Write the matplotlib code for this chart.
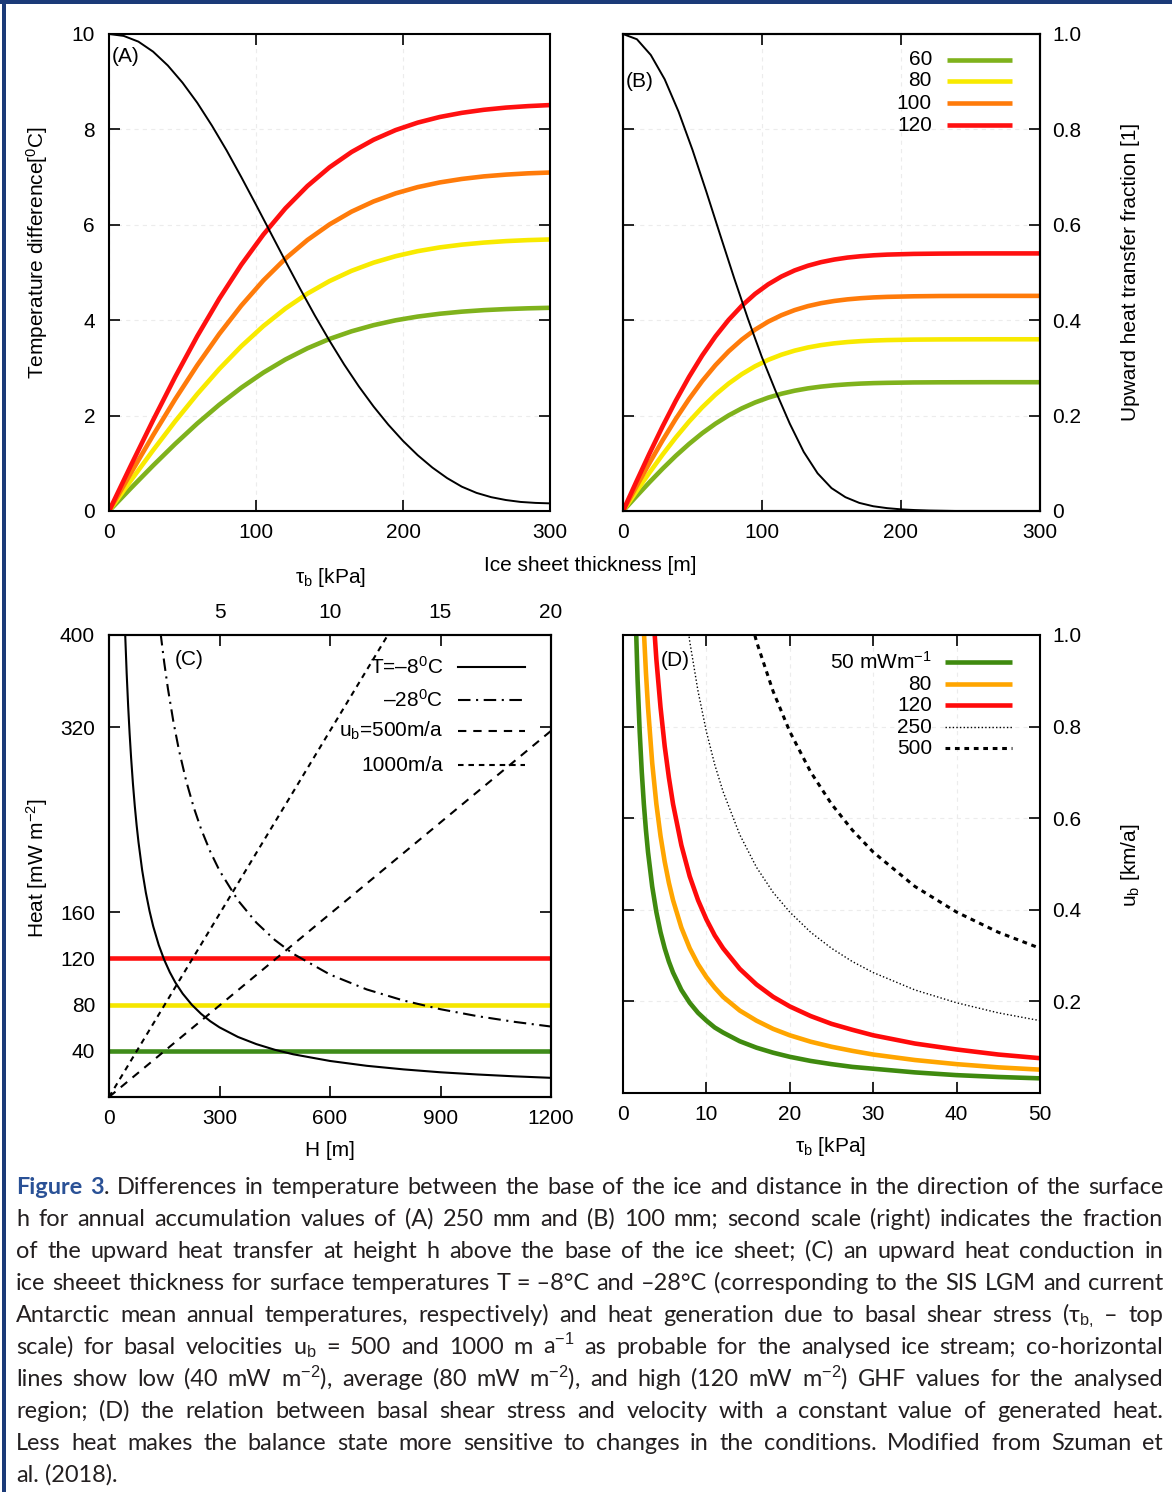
import matplotlib
matplotlib.use('Agg')
import matplotlib.pyplot as plt
from matplotlib.patches import Rectangle

plt.rcParams['font.family'] = ['Liberation Sans', 'DejaVu Sans']
plt.rcParams['mathtext.fontset'] = 'custom'
plt.rcParams['mathtext.rm'] = 'Liberation Sans'
plt.rcParams['mathtext.it'] = 'Liberation Sans:italic'
plt.rcParams['mathtext.bf'] = 'Liberation Sans:bold'
plt.rcParams['axes.unicode_minus'] = False
plt.rcParams['lines.scale_dashes'] = False

# ---------------- data ----------------
# Panel A: temperature difference vs ice thickness (250 mm accumulation)
thick_A = [0, 15, 30, 45, 60, 75, 90, 105, 120, 135, 150, 165, 180, 195, 210, 225, 240, 255, 270, 285, 300]
dT_A_60 = [0, 0.482, 0.953, 1.406, 1.834, 2.228, 2.585, 2.901, 3.176, 3.411, 3.607, 3.767, 3.896,
           3.998, 4.076, 4.135, 4.179, 4.211, 4.233, 4.249, 4.260]
dT_A_80 = [0, 0.644, 1.274, 1.880, 2.450, 2.977, 3.454, 3.877, 4.245, 4.558, 4.820, 5.035, 5.207,
           5.342, 5.447, 5.526, 5.584, 5.627, 5.658, 5.679, 5.693]
dT_A_100 = [0, 0.802, 1.588, 2.343, 3.054, 3.711, 4.306, 4.833, 5.291, 5.682, 6.008, 6.276, 6.490,
            6.659, 6.790, 6.888, 6.961, 7.015, 7.052, 7.079, 7.096]
dT_A_120 = [0, 0.962, 1.904, 2.810, 3.663, 4.450, 5.163, 5.795, 6.345, 6.813, 7.205, 7.526, 7.783,
            7.986, 8.142, 8.260, 8.347, 8.411, 8.457, 8.488, 8.510]
thick_10 = [0, 10, 20, 30, 40, 50, 60, 70, 80, 90, 100, 110, 120, 130, 140, 150,
            160, 170, 180, 190, 200, 210, 220, 230, 240, 250, 260, 270, 280, 290, 300]
black_A = [10.00, 9.96, 9.84, 9.63, 9.34, 8.98, 8.56, 8.08, 7.56, 7.00, 6.42, 5.83, 5.24, 4.66,
           4.10, 3.57, 3.07, 2.61, 2.19, 1.81, 1.47, 1.17, 0.91, 0.69, 0.51, 0.38, 0.29, 0.23,
           0.19, 0.17, 0.16]

# Panel B: 100 mm accumulation (left: temperature difference, right: fraction)
thick_B = [0, 9.5, 19, 28.5, 38, 47.5, 57, 66.5, 76, 85.5, 95, 104.5, 114, 123.5, 133, 142.5,
           152, 161.5, 171, 180.5, 190, 209, 228, 247, 266, 285, 300]
dT_B_60 = [0, 0.304, 0.601, 0.887, 1.157, 1.405, 1.631, 1.830, 2.004, 2.152, 2.275, 2.377, 2.458,
           2.522, 2.571, 2.608, 2.636, 2.656, 2.671, 2.681, 2.687, 2.695, 2.698, 2.699, 2.70, 2.70, 2.70]
dT_B_80 = [0, 0.405, 0.802, 1.183, 1.542, 1.874, 2.174, 2.440, 2.672, 2.869, 3.034, 3.169, 3.277,
           3.362, 3.428, 3.478, 3.515, 3.542, 3.561, 3.574, 3.583, 3.593, 3.597, 3.599, 3.60, 3.60, 3.60]
dT_B_100 = [0, 0.507, 1.004, 1.482, 1.932, 2.347, 2.724, 3.057, 3.347, 3.594, 3.801, 3.970, 4.105,
            4.212, 4.295, 4.357, 4.403, 4.437, 4.461, 4.478, 4.489, 4.501, 4.507, 4.509, 4.51, 4.51, 4.51]
dT_B_120 = [0, 0.608, 1.203, 1.774, 2.313, 2.811, 3.261, 3.660, 4.007, 4.303, 4.551, 4.753, 4.916,
            5.044, 5.142, 5.217, 5.272, 5.313, 5.341, 5.361, 5.375, 5.390, 5.396, 5.399, 5.40, 5.40, 5.40]
frac_B = [1.000, 0.989, 0.956, 0.905, 0.837, 0.757, 0.669, 0.578, 0.488, 0.402, 0.322, 0.250, 0.183,
          0.124, 0.079, 0.048, 0.029, 0.017, 0.010, 0.006, 0.0035, 0.002, 0.001, 0.0005, 0.0, 0.0,
          0.0, 0.0, 0.0, 0.0, 0.0]
legend_AB = ['60', '80', '100', '120']
colors_AB = ['#7fb21c', '#f8ea00', '#ff7b0a', '#ff1010']

# Panel C: heat vs ice thickness, top scale basal shear stress
H_T8 = [44, 48, 52, 56, 60, 65, 70, 75, 80, 90, 100, 110, 120, 135, 150, 165, 180, 200, 225, 250,
        275, 300, 350, 400, 450, 500, 600, 700, 800, 900, 1000, 1100, 1200]
Q_T8 = [400, 366.6, 338.5, 314.5, 293.7, 271.2, 252, 235.3, 220.8, 196.4, 177, 161.1, 147.8, 131.6,
        118.7, 108.1, 99.2, 89.5, 79.8, 72, 65.6, 60.3, 52, 45.8, 40.9, 37, 31.2, 27, 23.9, 21.4,
        19.5, 17.9, 16.6]
H_T28 = [140, 150, 160, 175, 190, 210, 230, 250, 275, 300, 350, 400, 450, 500, 600, 700, 800, 900,
         1000, 1100, 1200]
Q_T28 = [401.7, 376, 353.5, 324.6, 300.2, 273.1, 250.8, 232, 212.4, 196, 170.3, 151, 136, 124, 106,
         93.1, 83.5, 76, 70, 65.1, 61]
tau_C = [0, 20]
Q_u500 = [0, 317]
Q_u1000 = [0, 634]
ghf_levels = [40, 80, 120]
ghf_colors = ['#3f8c1a', '#f5e600', '#ff1010']
legend_C = ['T=–8$^0$C', '–28$^0$C', 'u$_\\mathrm{b}$=500m/a', '1000m/a']

# Panel D: basal velocity vs shear stress at constant heat
tau_D = [1.5, 1.75, 2, 2.25, 2.5, 2.75, 3, 3.5, 4, 4.5, 5, 5.5, 6, 7, 8, 9, 10, 11, 12, 14, 16,
         18, 20, 22.5, 25, 27.5, 30, 35, 40, 45, 50]
u_50 = [1.052, 0.902, 0.789, 0.701, 0.631, 0.574, 0.526, 0.451, 0.395, 0.351, 0.316, 0.287, 0.263,
        0.225, 0.197, 0.175, 0.158, 0.143, 0.132, 0.113, 0.099, 0.088, 0.079, 0.070, 0.063, 0.057,
        0.053, 0.045, 0.039, 0.035, 0.032]
u_80 = [1.683, 1.443, 1.263, 1.122, 1.010, 0.918, 0.842, 0.721, 0.631, 0.561, 0.505, 0.459, 0.421,
        0.361, 0.316, 0.281, 0.253, 0.230, 0.210, 0.180, 0.158, 0.140, 0.126, 0.112, 0.101, 0.092,
        0.084, 0.072, 0.063, 0.056, 0.051]
u_120 = [2.525, 2.164, 1.894, 1.683, 1.515, 1.377, 1.262, 1.082, 0.947, 0.842, 0.757, 0.689, 0.631,
         0.541, 0.473, 0.421, 0.379, 0.344, 0.316, 0.271, 0.237, 0.210, 0.189, 0.168, 0.151, 0.138,
         0.126, 0.108, 0.095, 0.084, 0.076]
u_250 = [5.26, 4.509, 3.945, 3.507, 3.156, 2.869, 2.63, 2.254, 1.973, 1.753, 1.578, 1.435, 1.315,
         1.127, 0.986, 0.877, 0.789, 0.717, 0.658, 0.564, 0.493, 0.438, 0.395, 0.351, 0.316, 0.287,
         0.263, 0.225, 0.197, 0.175, 0.158]
u_500 = [10.52, 9.017, 7.89, 7.013, 6.312, 5.738, 5.26, 4.509, 3.945, 3.507, 3.156, 2.869, 2.63,
         2.254, 1.973, 1.753, 1.578, 1.435, 1.315, 1.127, 0.986, 0.877, 0.789, 0.701, 0.631, 0.574,
         0.526, 0.451, 0.395, 0.351, 0.316]
legend_D = ['50 mWm$^{-1}$', '80', '120', '250', '500']
colors_D = ['#3f8a0f', '#ffa500', '#ff0a0a']

# ---------------- figure ----------------
W, H = 1172, 1492
fig = plt.figure(figsize=(W / 100, H / 100), dpi=100)
fig.patch.set_facecolor('white')
FS = 15
TXT = '#231f20'


def add_ax(l, t, r, b):
    return fig.add_axes([l / W, 1 - b / H, (r - l) / W, (b - t) / H])


def fx(x):
    return x / W


def fy(y):
    return 1 - y / H


def style(ax):
    for s in ax.spines.values():
        s.set_linewidth(1.5)
    ax.tick_params(which='both', direction='in', length=8, width=1.2, labelsize=FS)


def grid(ax):
    ax.set_axisbelow(True)
    ax.grid(True, color='#ececec', linewidth=0.8, linestyle=(0, (3, 3)))


def legend_rows(ax, labels, ys, xt, x0, x1, styles):
    for lab, y, st in zip(labels, ys, styles):
        ax.text(xt, y, lab, transform=ax.transAxes, ha='right', va='center', fontsize=FS)
        ax.plot([x0, x1], [y, y], transform=ax.transAxes, clip_on=False, **st)


# ---- Panel A ----
axA = add_ax(109, 34, 550, 511)
style(axA)
grid(axA)
axA.set_xlim(0, 300)
axA.set_ylim(0, 10)
axA.set_xticks([0, 100, 200, 300])
axA.set_yticks([0, 2, 4, 6, 8, 10])
axA.tick_params(top=True, right=True)
axA.tick_params(axis='x', pad=9)
axA.tick_params(axis='y', pad=10)
for vals, c in zip([dT_A_60, dT_A_80, dT_A_100, dT_A_120], colors_AB):
    axA.plot(thick_A, vals, color=c, lw=3.3, solid_capstyle='butt', solid_joinstyle='round')
axA.plot(thick_10, black_A, color='black', lw=1.4)
axA.text(0.007, 0.952, '(A)', transform=axA.transAxes, fontsize=FS, ha='left', va='center')

# ---- Panel B ----
axB = add_ax(623, 34, 1040, 511)
style(axB)
grid(axB)
axB.set_xlim(0, 300)
axB.set_ylim(0, 10)
axB.set_xticks([0, 100, 200, 300])
axB.set_yticks([0, 2, 4, 6, 8, 10])
axB.tick_params(top=True, right=False, labelleft=False)
axB.tick_params(axis='x', pad=9)
for vals, c in zip([dT_B_60, dT_B_80, dT_B_100, dT_B_120], colors_AB):
    axB.plot(thick_B, vals, color=c, lw=3.3, solid_capstyle='butt', solid_joinstyle='round')
axB2 = axB.twinx()
style(axB2)
axB2.set_ylim(0, 1)
axB2.set_yticks([0, 0.2, 0.4, 0.6, 0.8, 1.0])
axB2.set_yticklabels(['0', '0.2', '0.4', '0.6', '0.8', '1.0'])
axB2.tick_params(axis='y', pad=9)
axB2.plot(thick_10, frac_B, color='black', lw=1.4)
axB.text(0.007, 0.901, '(B)', transform=axB.transAxes, fontsize=FS, ha='left', va='center')
legend_rows(axB, legend_AB, [0.9455, 0.9015, 0.8553, 0.8092], 0.741, 0.777, 0.933,
            [dict(color=c, lw=3.3, solid_capstyle='butt') for c in colors_AB])

# ---- Panel C ----
axC = add_ax(109, 635, 551, 1097)
style(axC)
axC.set_xlim(0, 1200)
axC.set_ylim(0, 400)
axC.set_xticks([0, 300, 600, 900, 1200])
axC.set_yticks([40, 80, 120, 160, 320, 400])
axC.tick_params(top=False, right=True)
axC.tick_params(axis='x', pad=9)
axC.tick_params(axis='y', pad=10)
for lvl, c in zip(ghf_levels, ghf_colors):
    axC.axhline(lvl, color=c, lw=3.3)
axC.plot(H_T8, Q_T8, color='black', lw=1.5)
axC.plot(H_T28, Q_T28, color='black', lw=1.5, linestyle=(0, (9, 4, 1.5, 4)))
axCt = axC.twiny()
style(axCt)
axCt.set_xlim(0, 20)
axCt.set_xticks([5, 10, 15, 20])
axCt.tick_params(axis='x', pad=9)
axCt.plot(tau_C, Q_u500, color='black', lw=1.5, linestyle=(0, (6, 5)))
axCt.plot(tau_C, Q_u1000, color='black', lw=1.5, linestyle=(0, (4, 3.5)))
axC.text(0.149, 0.946, '(C)', transform=axC.transAxes, fontsize=FS, ha='left', va='center')
legend_rows(axCt, legend_C, [0.9307, 0.8593, 0.7922, 0.7186], 0.7557, 0.790, 0.941,
            [dict(color='black', lw=1.5),
             dict(color='black', lw=1.5, linestyle=(0, (9, 4, 1.5, 4))),
             dict(color='black', lw=1.5, linestyle=(0, (6, 5))),
             dict(color='black', lw=1.5, linestyle=(0, (4, 3.5)))])

# ---- Panel D ----
axD = add_ax(623, 635, 1040, 1093)
style(axD)
grid(axD)
axD.set_xlim(0, 50)
axD.set_ylim(0, 1)
axD.set_xticks([0, 10, 20, 30, 40, 50])
axD.set_yticks([0, 0.2, 0.4, 0.6, 0.8, 1.0])
axD.set_yticklabels(['', '0.2', '0.4', '0.6', '0.8', '1.0'])
axD.tick_params(top=True, right=True, labelleft=False, labelright=True)
axD.tick_params(axis='x', pad=9)
axD.tick_params(axis='y', pad=9)
for vals, c in zip([u_50, u_80, u_120], colors_D):
    axD.plot(tau_D, vals, color=c, lw=3.3, solid_joinstyle='round')
axD.plot(tau_D, u_250, color='black', lw=1.0, linestyle=(0, (1, 1.6)))
axD.plot(tau_D, u_500, color='black', lw=2.2, linestyle=(0, (3.4, 3.4)))
axD.text(0.091, 0.945, '(D)', transform=axD.transAxes, fontsize=FS, ha='left', va='center')
legend_rows(axD, legend_D, [0.941, 0.893, 0.847, 0.799, 0.753], 0.741, 0.772, 0.933,
            [dict(color=colors_D[0], lw=3.3, solid_capstyle='butt'),
             dict(color=colors_D[1], lw=3.3, solid_capstyle='butt'),
             dict(color=colors_D[2], lw=3.3, solid_capstyle='butt'),
             dict(color='black', lw=1.0, linestyle=(0, (1, 1.6))),
             dict(color='black', lw=2.2, linestyle=(0, (3.4, 3.4)))])

# ---- axis labels ----
fig.text(fx(37), fy(253), 'Temperature difference[$^0$C]', rotation=90, ha='center', va='center', fontsize=FS)
fig.text(fx(1131), fy(272), 'Upward heat transfer fraction [1]', rotation=90, ha='center', va='center', fontsize=FS)
fig.text(fx(590), fy(566), 'Ice sheet thickness [m]', ha='center', va='center', fontsize=FS)
fig.text(fx(330), fy(578), 'τ$_\\mathrm{b}$ [kPa]', ha='center', va='center', fontsize=FS)
fig.text(fx(37), fy(868), 'Heat [mW m$^{-2}$]', rotation=90, ha='center', va='center', fontsize=FS)
fig.text(fx(330), fy(1150), 'H [m]', ha='center', va='center', fontsize=FS)
fig.text(fx(830), fy(1147), 'τ$_\\mathrm{b}$ [kPa]', ha='center', va='center', fontsize=FS)
fig.text(fx(1131), fy(865), 'u$_\\mathrm{b}$ [km/a]', rotation=90, ha='center', va='center', fontsize=FS)

# ---- border ----
NAVY = '#1b3a78'
fig.add_artist(Rectangle((0, fy(4)), 1, 4 / H, transform=fig.transFigure, color=NAVY, lw=0, zorder=20))
fig.add_artist(Rectangle((fx(2), 0), 4 / W, 1, transform=fig.transFigure, color=NAVY, lw=0, zorder=20))

# ---- caption (justified) ----
BLUE = '#2a5196'
cap_lines = [
    "Figure 3. Differences in temperature between the base of the ice and distance in the direction of the surface",
    "h for annual accumulation values of (A) 250 mm and (B) 100 mm; second scale (right) indicates the fraction",
    "of the upward heat transfer at height h above the base of the ice sheet; (C) an upward heat conduction in",
    "ice sheeet thickness for surface temperatures T~=~–8°C and –28°C (corresponding to the SIS LGM and current",
    "Antarctic mean annual temperatures, respectively) and heat generation due to basal shear stress (τ$_\\mathrm{b,}$ – top",
    "scale) for basal velocities u$_\\mathrm{b}$ = 500 and 1000 m a$^{-1}$ as probable for the analysed ice stream; co-horizontal",
    "lines show low (40 mW m$^{-2}$), average (80 mW m$^{-2}$), and high (120 mW m$^{-2}$) GHF values for the analysed",
    "region; (D) the relation between basal shear stress and velocity with a constant value of generated heat.",
    "Less heat makes the balance state more sensitive to changes in the conditions. Modified from Szuman et",
    "al. (2018).",
]
CAP_L, CAP_R = 16, 1163
BASE0, STEP = 1194, 32
CAP_FAM = ['Lato', 'Liberation Sans', 'DejaVu Sans']

renderer = fig.canvas.get_renderer()


def tokens_of(i, line):
    toks = []
    for w in line.split(' '):
        w = w.replace('~', ' ')
        toks.append([(w, 'normal', TXT)])
    if i == 0:
        toks[0] = [('Figure', 'bold', BLUE)]
        toks[1] = [('3', 'bold', BLUE), ('.', 'normal', TXT)]
    return toks


def measure(s, weight, fs):
    t = fig.text(0, 0, s, fontsize=fs, fontweight=weight, family=CAP_FAM)
    w = t.get_window_extent(renderer).width
    t.remove()
    return w


fs0 = 16.0
space0 = measure('x x', 'normal', fs0) - measure('xx', 'normal', fs0)
max_nat = 0
for i, line in enumerate(cap_lines[:-1]):
    toks = tokens_of(i, line)
    nat = sum(measure(s, wgt, fs0) for tok in toks for (s, wgt, c) in tok) + space0 * (len(toks) - 1)
    max_nat = max(max_nat, nat)
cap_fs = fs0 * (CAP_R - CAP_L) / max_nat * 0.99
space = measure('x x', 'normal', cap_fs) - measure('xx', 'normal', cap_fs)

for i, line in enumerate(cap_lines):
    toks = tokens_of(i, line)
    widths = [[measure(s, wgt, cap_fs) for (s, wgt, c) in tok] for tok in toks]
    tot = sum(sum(w) for w in widths)
    if i < len(cap_lines) - 1 and len(toks) > 1:
        gap = (CAP_R - CAP_L - tot) / (len(toks) - 1)
    else:
        gap = space
    x = CAP_L
    yb = BASE0 + STEP * i
    for tok, ws in zip(toks, widths):
        for (s, wgt, c), w in zip(tok, ws):
            fig.text(fx(x), fy(yb), s, fontsize=cap_fs, fontweight=wgt, color=c,
                     family=CAP_FAM, ha='left', va='baseline')
            x += w
        x += gap

fig.savefig('out.png', dpi=100, facecolor='white')
